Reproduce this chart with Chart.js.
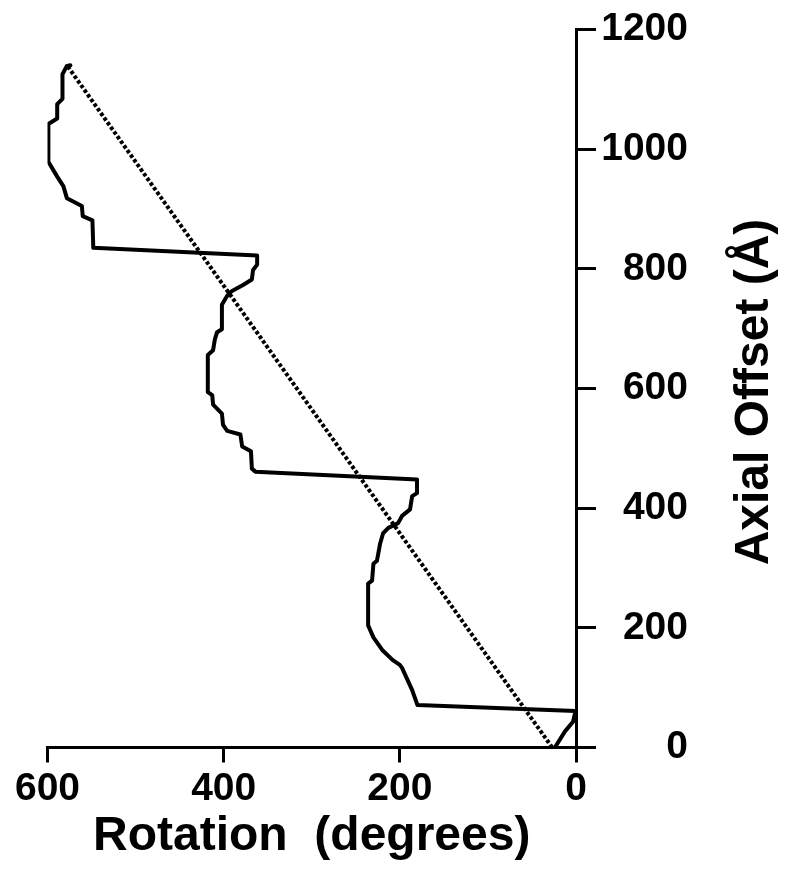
<!DOCTYPE html>
<html>
<head>
<meta charset="utf-8">
<script src="https://cdn.jsdelivr.net/npm/chart.js@4"></script>
<style>
  html, body { margin: 0; padding: 0; background: #ffffff; }
  #wrap { width: 789px; height: 871px; }
</style>
</head>
<body>
<div id="wrap"><canvas id="chart" width="789" height="871"></canvas></div>
<script>
// Tick values for both axes
const rotationTicks = [0, 200, 400, 600];
const offsetTicks = [0, 200, 400, 600, 800, 1000, 1200];

// Measured path: rotation (degrees) against axial offset (Å)
const pathRotation = [24, 12.5, 3.4, 0.5, 180, 186, 197.5, 200, 208, 220, 230, 236, 236, 231.5, 230, 226,
  222.5, 219, 213, 202, 197.5, 188.4, 186, 180.5, 180.5, 364, 368, 369, 379, 381, 396, 400.7, 402, 412,
  413, 418, 418, 412, 410, 407.5, 402, 402, 396, 390.5, 378, 368, 366.6, 362, 362, 548, 549, 560, 561,
  578, 582, 589, 599, 599, 589, 589, 583, 583, 578, 574];
const pathOffset = [0, 27, 43, 61, 71, 96, 133, 138, 146, 163, 184, 204, 274, 279, 307, 312,
  340, 358, 367, 375, 387, 398, 420, 425, 448, 461, 466, 495, 503, 523, 529, 539, 558, 573,
  589, 594, 656, 664, 682, 694, 699, 740, 755, 763, 773, 782, 798, 807, 822, 835, 881, 888, 905,
  918, 938, 954, 979, 1042, 1051, 1075, 1084, 1125, 1139, 1140];

// Uniform helix reference line
const fitRotation = [27, 577];
const fitOffset = [0, 1138];

const toPoints = (xs, ys) => xs.map((x, i) => ({ x: x, y: ys[i] }));
const FAMILY = '"Liberation Sans", Arial, sans-serif';

// Vertical axis title, reading bottom to top on the right-hand side
const yTitle = {
  id: 'yTitle',
  afterDraw(chart) {
    const ctx = chart.ctx;
    ctx.save();
    ctx.translate(768, 392);
    ctx.rotate(-Math.PI / 2);
    ctx.fillStyle = '#000';
    ctx.font = 'bold 48px ' + FAMILY;
    ctx.textAlign = 'center';
    ctx.textBaseline = 'alphabetic';
    ctx.fillText('Axial Offset (Å)', 0, 0);
    ctx.restore();
  }
};

const tickFont = { family: FAMILY, size: 39, weight: 'bold' };

new Chart(document.getElementById('chart'), {
  type: 'line',
  data: {
    datasets: [
      {
        data: toPoints(pathRotation, pathOffset),
        borderColor: '#000',
        borderWidth: 4,
        pointRadius: 0,
        tension: 0,
        fill: false,
        borderJoinStyle: 'round',
        borderCapStyle: 'round'
      },
      {
        data: toPoints(fitRotation, fitOffset),
        borderColor: '#000',
        borderWidth: 4,
        borderDash: [3.5, 2.2],
        pointRadius: 0,
        tension: 0,
        fill: false
      }
    ]
  },
  options: {
    responsive: false,
    devicePixelRatio: 1,
    animation: false,
    layout: { padding: { left: 47.5, top: 23, right: 101, bottom: 0 } },
    plugins: { legend: { display: false }, tooltip: { enabled: false } },
    scales: {
      x: {
        type: 'linear',
        reverse: true,
        min: 0,
        max: 600,
        afterBuildTicks: s => { s.ticks = rotationTicks.map(v => ({ value: v })); },
        afterFit: s => { s.height = 123.5; },
        ticks: { font: tickFont, color: '#000', padding: 3, maxRotation: 0, callback: v => String(v) },
        grid: { drawOnChartArea: false, tickLength: 15, color: '#000', lineWidth: 3 },
        border: { color: '#000', width: 3 },
        title: {
          display: true,
          text: 'Rotation  (degrees)',
          color: '#000',
          font: { family: FAMILY, size: 48, weight: 'bold' },
          padding: { top: 0, bottom: 5 }
        }
      },
      y: {
        type: 'linear',
        position: 'right',
        min: 0,
        max: 1200,
        afterBuildTicks: s => { s.ticks = offsetTicks.map(v => ({ value: v })); },
        afterFit: s => { s.width = 112; },
        ticks: { font: tickFont, color: '#000', padding: 6, crossAlign: 'far', callback: v => String(v) },
        grid: { drawOnChartArea: false, tickLength: 20, color: '#000', lineWidth: 3 },
        border: { color: '#000', width: 3 }
      }
    }
  },
  plugins: [yTitle]
});
</script>
</body>
</html>
